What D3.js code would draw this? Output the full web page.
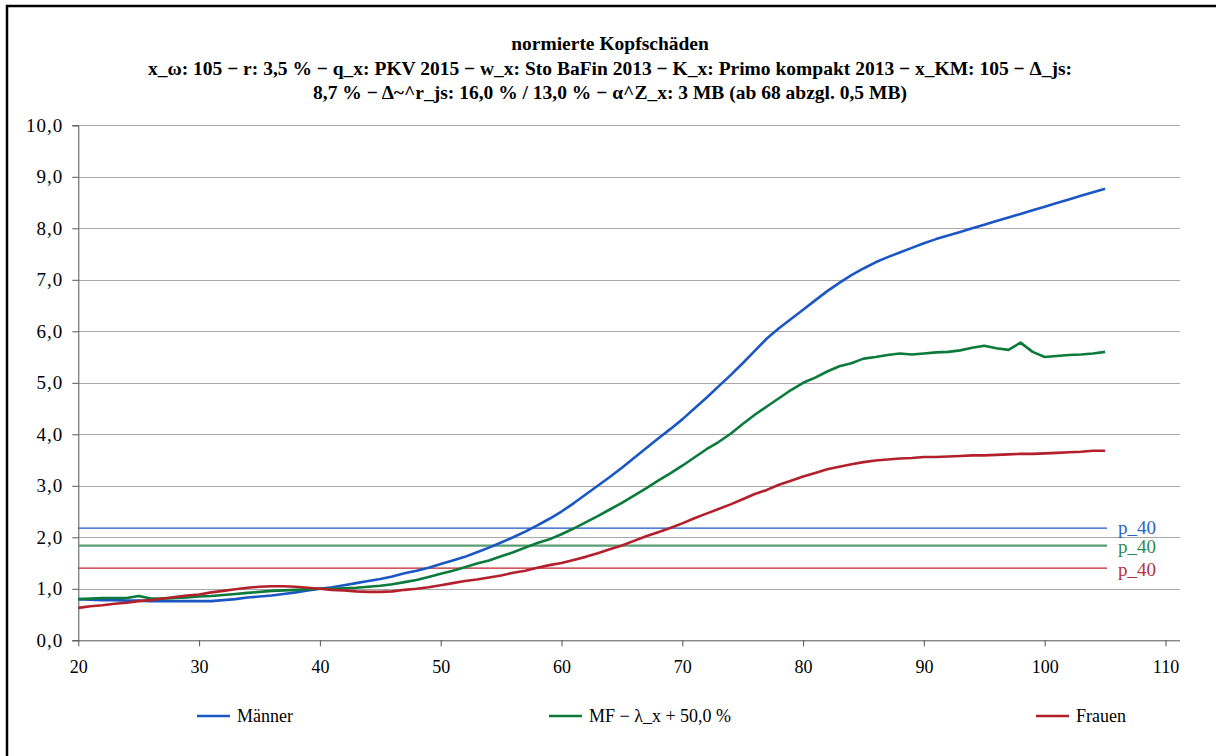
<!DOCTYPE html>
<html><head><meta charset="utf-8">
<script src="https://cdn.jsdelivr.net/npm/d3@7"></script>
<style>
body{margin:0;background:#fff}
svg{display:block}
text{font-family:"Liberation Serif","Times New Roman",serif}
</style>
</head><body>
<svg id="chart" width="1216" height="756"></svg>
<script>
// Age axis: one value per age 20 … 105
const ages = d3.range(20, 106);

const maenner = [
  0.80,0.79,0.78,0.78,0.77,0.77,0.76,0.76,0.76,0.76,
  0.76,0.76,0.78,0.80,0.83,0.85,0.87,0.90,0.93,0.97,
  1.00,1.03,1.07,1.11,1.15,1.19,1.24,1.30,1.35,1.41,
  1.48,1.55,1.62,1.71,1.80,1.90,2.00,2.11,2.23,2.36,
  2.50,2.66,2.83,3.00,3.17,3.35,3.54,3.73,3.92,4.10,
  4.29,4.50,4.71,4.93,5.15,5.38,5.62,5.86,6.06,6.24,
  6.42,6.60,6.78,6.94,7.09,7.22,7.34,7.44,7.53,7.62,
  7.71,7.79,7.86,7.93,8.00,8.07,8.14,8.21,8.28,8.35,
  8.42,8.49,8.56,8.63,8.70,8.77
];

const mf = [
  0.80,0.81,0.82,0.82,0.82,0.86,0.81,0.81,0.82,0.83,
  0.85,0.86,0.88,0.90,0.92,0.94,0.96,0.97,0.98,0.99,
  1.00,1.00,1.01,1.02,1.04,1.06,1.09,1.13,1.17,1.23,
  1.29,1.35,1.42,1.49,1.55,1.63,1.71,1.80,1.89,1.96,
  2.06,2.17,2.29,2.41,2.54,2.67,2.81,2.95,3.10,3.24,
  3.39,3.55,3.71,3.85,4.01,4.20,4.38,4.54,4.70,4.86,
  5.00,5.10,5.22,5.32,5.38,5.47,5.50,5.54,5.57,5.55,
  5.57,5.59,5.60,5.63,5.68,5.72,5.67,5.64,5.78,5.60,
  5.50,5.52,5.54,5.55,5.57,5.60
];

const frauen = [
  0.63,0.66,0.68,0.71,0.73,0.76,0.78,0.81,0.84,0.87,
  0.89,0.93,0.96,0.99,1.02,1.04,1.05,1.05,1.04,1.02,
  1.00,0.98,0.97,0.95,0.94,0.94,0.95,0.98,1.00,1.03,
  1.07,1.11,1.15,1.18,1.22,1.26,1.31,1.35,1.41,1.46,
  1.50,1.56,1.62,1.69,1.77,1.84,1.93,2.02,2.10,2.18,
  2.27,2.37,2.46,2.55,2.64,2.74,2.84,2.92,3.02,3.10,
  3.18,3.25,3.32,3.37,3.42,3.46,3.49,3.51,3.53,3.54,
  3.56,3.56,3.57,3.58,3.59,3.59,3.60,3.61,3.62,3.62,
  3.63,3.64,3.65,3.66,3.68,3.68
];

// 40% quantile reference levels
const p40Labels = ["p_40", "p_40", "p_40"];
const p40Values = [2.18, 1.84, 1.40];

const seriesNames = ["Männer", "MF − λ_x + 50,0 %", "Frauen"];
const seriesColors = ["#1a56c4", "#0b7a3b", "#b3202c"];
const p40Colors = ["#1a56c4", "#5a9e74", "#c0202a"];
const p40TextColors = ["#2a5fc4", "#2f8a52", "#b8303a"];
const p40Widths = [1.2, 2.2, 1.2];

const xTicks = d3.range(20, 111, 10);
const yTicks = d3.range(0, 10.01, 1);

const titleLines = [
  "normierte Kopfschäden",
  "x_ω: 105 − r: 3,5 % − q_x: PKV 2015 − w_x: Sto BaFin 2013 − K_x: Primo kompakt 2013 − x_KM: 105 − Δ_js:",
  "8,7 % − Δ~^r_js: 16,0 % / 13,0 % − α^Z_x: 3 MB (ab 68 abzgl. 0,5 MB)"
];

const serif = "'Liberation Serif','Times New Roman',serif";
const svg = d3.select("#chart");

// outer frame
svg.append("rect").attr("x", 7).attr("y", 6).attr("width", 1240).attr("height", 780)
  .attr("fill", "none").attr("stroke", "#000").attr("stroke-width", 2.5);

const x = d3.scaleLinear().domain([20, 110]).range([78.3, 1165.5]);
const y = d3.scaleLinear().domain([0, 10]).range([640.3, 125.3]);
const plotRight = 1180;

// title
svg.append("g").selectAll("text").data(titleLines).join("text")
  .attr("x", 610).attr("y", (d, i) => 50 + i * 24.5)
  .attr("text-anchor", "middle")
  .style("font-family", serif).style("fill", "#000")
  .style("font-weight", "bold").style("font-size", "19.5px")
  .text(d => d);

// horizontal gridlines
svg.append("g").selectAll("line").data(yTicks.filter(v => v > 0)).join("line")
  .attr("x1", x(20)).attr("x2", plotRight)
  .attr("y1", d => Math.round(y(d)) + 0.5).attr("y2", d => Math.round(y(d)) + 0.5)
  .attr("stroke", "#a8a8a8").attr("stroke-width", 1);

// y axis
const yAxis = d3.axisLeft(y).tickValues(yTicks).tickSize(6).tickPadding(9)
  .tickFormat(d => d3.format(".1f")(d).replace(".", ","));
const gy = svg.append("g").attr("transform", `translate(${x(20)},0)`).call(yAxis);
gy.select(".domain").attr("stroke", "#555");
gy.selectAll(".tick line").attr("stroke", "#555");
gy.selectAll(".tick text").style("font-size", "19px").style("letter-spacing", "1px")
  .style("fill", "#000").style("font-family", serif);

// x axis
const xAxis = d3.axisBottom(x).tickValues(xTicks).tickSize(6).tickPadding(14)
  .tickFormat(d3.format("d"));
const gx = svg.append("g").attr("transform", `translate(0,${y(0)})`).call(xAxis);
gx.select(".domain").attr("d", `M${x(20)},0.5H${plotRight}`).attr("stroke", "#555");
gx.selectAll(".tick line").attr("stroke", "#555");
gx.selectAll(".tick text").style("font-size", "18px").style("fill", "#000")
  .style("font-family", serif);

// p_40 reference lines
const refEnd = 1107;
p40Values.forEach((v, i) => {
  svg.append("line")
    .attr("x1", x(20)).attr("x2", refEnd)
    .attr("y1", y(v)).attr("y2", y(v))
    .attr("stroke", p40Colors[i]).attr("stroke-width", p40Widths[i]);
});
const labelY = [534, 553, 576];
svg.append("g").selectAll("text").data(p40Values).join("text")
  .attr("x", 1118).attr("y", (d, i) => labelY[i])
  .style("fill", (d, i) => p40TextColors[i])
  .style("font-family", serif)
  .style("font-size", "19px")
  .text((d, i) => p40Labels[i]);

// series lines
const line = d3.line().x((d, i) => x(ages[i])).y(d => y(d));
[maenner, mf, frauen].forEach((vals, i) => {
  svg.append("path").datum(vals)
    .attr("d", line)
    .attr("fill", "none")
    .attr("stroke", seriesColors[i])
    .attr("stroke-width", 2.6)
    .attr("stroke-linejoin", "round");
});

// legend
const legendX = [197, 549, 1036];
const lg = svg.append("g").selectAll("g").data(seriesNames).join("g")
  .attr("transform", (d, i) => `translate(${legendX[i]},716)`);
lg.append("line").attr("x1", 0).attr("x2", 33).attr("y1", 0).attr("y2", 0)
  .attr("stroke", (d, i) => seriesColors[i]).attr("stroke-width", 2.6);
lg.append("text").attr("x", 40).attr("y", 6)
  .style("font-family", serif).style("fill", "#000").style("font-size", "18px").text(d => d);
</script>
</body></html>
